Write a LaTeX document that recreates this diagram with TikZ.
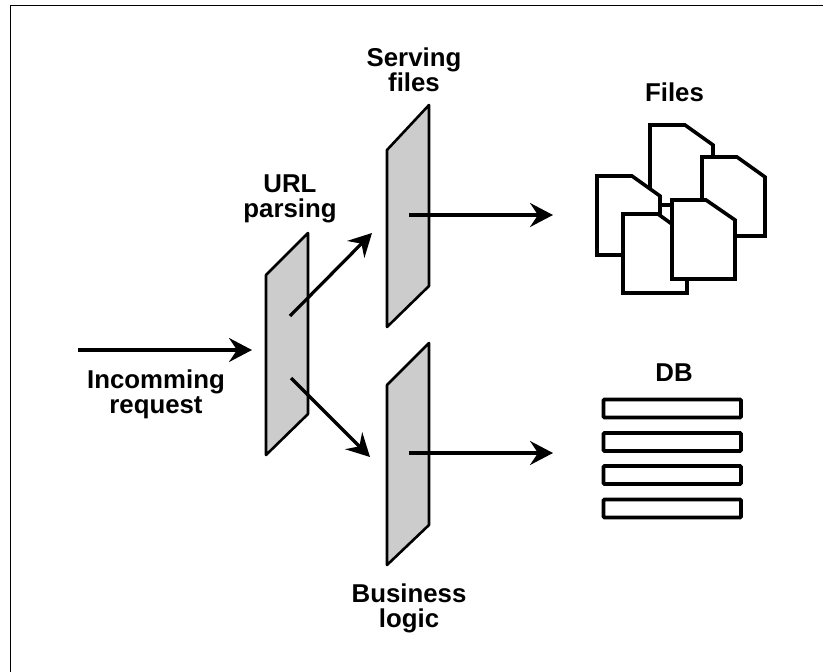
\documentclass[tikz,border=0pt]{standalone}
\usepackage{fontspec}
\setmainfont{Liberation Sans}
\usetikzlibrary{arrows.meta}
\tikzset{
  x=1pt,y=-1pt,
  plane/.style={draw=black,fill=black!20,line width=2.6pt,line join=round},
  flow/.style={draw=black,line width=3.2pt,-{Stealth[length=23pt,width=24pt,inset=8pt]}},
  doc/.style={draw=black,fill=white,line width=3.6pt,line join=miter},
  dbrow/.style={draw=black,fill=white,line width=3.6pt,rounded corners=1pt},
  lab/.style={font=\bfseries\fontsize{25.8pt}{25pt}\selectfont,align=center,inner sep=0pt},
}
\begin{document}
\begin{tikzpicture}
\useasboundingbox (0,0) rectangle (823,672);
\fill[white] (0,0) rectangle (823,672);
\draw[line width=1.3pt] (10.5,672) -- (10.5,5.5) -- (823,5.5);
% planes
\draw[plane] (266,275) -- (308,233) -- (308,414) -- (266,455) -- cycle;
\draw[plane] (387,150) -- (429,105) -- (429,286) -- (387,327) -- cycle;
\draw[plane] (387,385) -- (429,343) -- (429,525) -- (387,565) -- cycle;
% coordinates for connectors
\coordinate (in) at (78,350);
\coordinate (urlin) at (252,350);
\coordinate (u1) at (290,316);
\coordinate (s1) at (372,233);
\coordinate (u2) at (291,378);
\coordinate (b1) at (370,457);
\coordinate (sf) at (409,215);
\coordinate (fe) at (553,215);
\coordinate (bl) at (409,453);
\coordinate (de) at (553,453);
\draw[flow] (in) -- (urlin);
\draw[flow] (u1) -- (s1);
\draw[flow] (u2) -- (b1);
\draw[flow] (sf) -- (fe);
\draw[flow] (bl) -- (de);
% files
\draw[doc] (650,125) -- (685,125) -- (713,145) -- (713,205) -- (650,205) -- cycle;
\draw[doc] (702,157) -- (737,157) -- (765,177) -- (765,236) -- (702,236) -- cycle;
\draw[doc] (597,176) -- (632,176) -- (660,196) -- (660,255) -- (597,255) -- cycle;
\draw[doc] (623,214) -- (658,214) -- (687,235) -- (687,293) -- (623,293) -- cycle;
\draw[doc] (672,200) -- (706,200) -- (735,220) -- (735,279) -- (672,279) -- cycle;
% db
\draw[dbrow] (603.5,399.5) rectangle (741,417.5);
\draw[dbrow] (603.5,433) rectangle (741,451);
\draw[dbrow] (603.5,466) rectangle (741,484);
\draw[dbrow] (603.5,499.5) rectangle (741,517.5);
% labels
\node[lab] (l1) at (156,394.2) {Incomming\\request};
\node[lab] (l2) at (290,199) {URL\\parsing};
\node[lab] (l3) at (414,69.5) {Serving\\files};
\node[lab] (l4) at (674.5,92) {Files};
\node[lab] (l5) at (409,608) {Business\\logic};
\node[lab] (l6) at (674,373) {DB};
\end{tikzpicture}
\end{document}
